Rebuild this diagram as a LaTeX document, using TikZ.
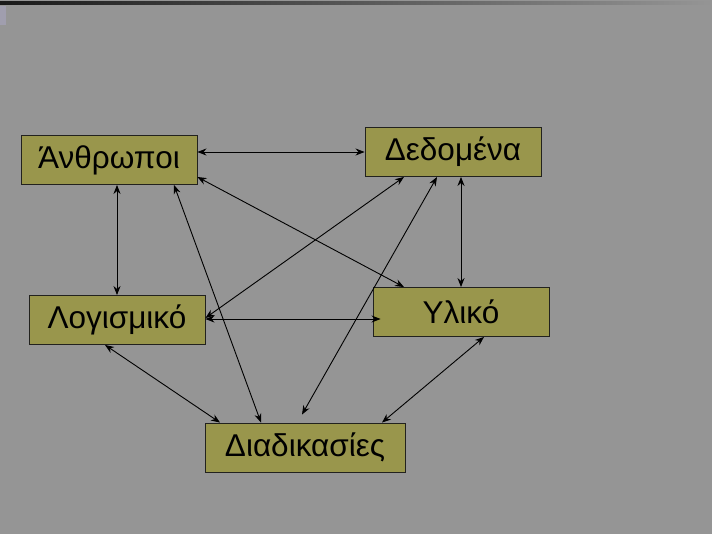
\documentclass[tikz,border=0pt]{standalone}
\usepackage{fontspec}
\setmainfont{Liberation Sans}
\usepackage{tikz}
\usetikzlibrary{arrows.meta}

\definecolor{slidegray}{RGB}{149,149,149}
\definecolor{slidepatch}{RGB}{160,158,174}
\definecolor{olivebox}{RGB}{153,150,76}
\definecolor{boxline}{RGB}{34,34,30}

\begin{document}
\begin{tikzpicture}[x=1pt,y=-1pt,<->,>={Stealth[length=9pt,width=7pt]},
                    line width=0.9pt]

  \tikzset{part/.style={rectangle,draw=boxline,fill=olivebox,inner sep=0pt,
                        minimum width=176pt,minimum height=49pt,
                        font=\fontsize{31.5}{36}\selectfont}}

  % background of the slide
  \fill[slidegray] (0,0) rectangle (712,534);
  \useasboundingbox (0,0) rectangle (712,534);
  \shade[left color=black!90,right color=slidegray,draw=none] (0,2) rectangle (712,5);
  \fill[slidepatch,draw=none] (0,6) rectangle (6,25);

  \node[part] (People)    at (109,160)   {Άνθρωποι};
  \node[part] (Data)      at (453,152)   {Δεδομένα};
  \node[part] (Software)  at (117,320)   {Λογισμικό};
  \node[part] (Hardware)  at (461,312)   {Υλικό};
  \node[part,minimum width=200pt] (Procedures) at (305,447.5) {Διαδικασίες};

  \draw (People.east |- Data.west) -- (Data.west);
  \draw (Software.north |- People.south) -- (Software.north);
  \draw ([xshift=65pt]People.south) -- ([xshift=-44pt]Procedures.north);
  \draw ([yshift=-17pt]People.east) -- ([xshift=-57pt]Hardware.north);
  \draw ([xshift=-49pt]Data.south) -- ([yshift=2pt]Software.east);
  \draw ([xshift=-16pt]Data.south) -- ([shift={(-3pt,8pt)}]Procedures.north);
  \draw (Hardware.north |- Data.south) -- (Hardware.north);
  \draw[shorten >=-8pt] ([yshift=1pt]Software.east) -- ([yshift=1pt]Software.east -| Hardware.west);
  \draw ([xshift=-12pt]Software.south) -- ([xshift=-85pt]Procedures.north);
  \draw ([xshift=23pt]Hardware.south) -- ([xshift=77pt]Procedures.north);
\end{tikzpicture}
\end{document}
